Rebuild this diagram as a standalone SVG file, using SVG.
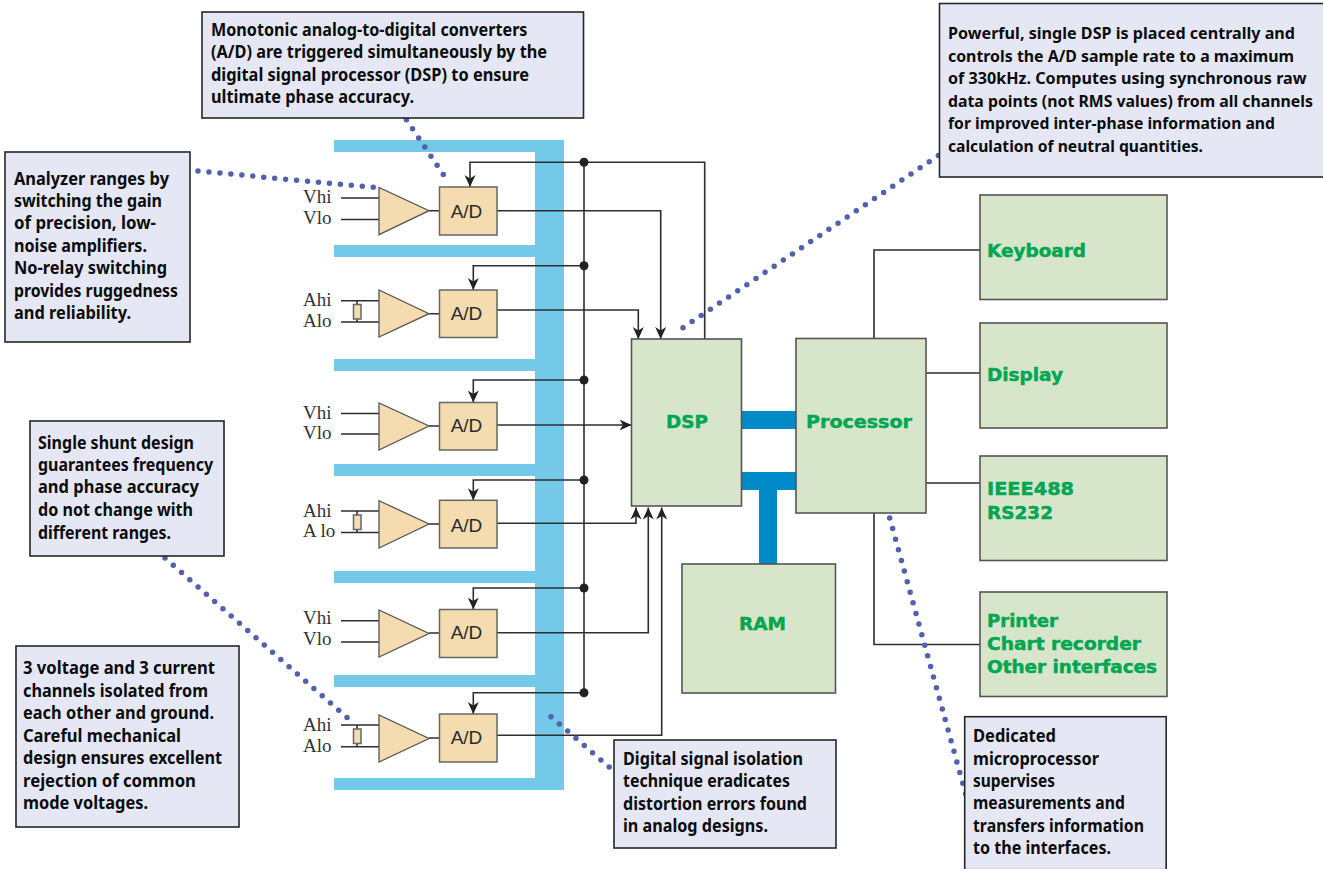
<svg xmlns="http://www.w3.org/2000/svg" width="1323" height="869" viewBox="0 0 1323 869">
<style>
.bus{fill:#75c9e8}
.thick{fill:#0089c7}
.w{fill:none;stroke:#2e2e2e;stroke-width:1.6}
.dot{fill:#222}
.dots{fill:none;stroke:#5261ad;stroke-width:5.5;stroke-linecap:round;stroke-dasharray:0 11}
.amp{fill:#f5dcb0;stroke:#555;stroke-width:1.3}
.ad{fill:#f5dcb0;stroke:#666;stroke-width:1.5}
.adt{font:19px "Liberation Sans",Arial,sans-serif;fill:#2a2a2a;text-anchor:middle}
.sig{font:19px "Liberation Serif","Times New Roman",serif;fill:#333}
.blk{fill:#d7e6cb;stroke:#555;stroke-width:1.6}
.grn{font:bold 18px "DejaVu Sans",Verdana,sans-serif;fill:#00a651;stroke:#00a651;stroke-width:.5}
.call{fill:#e5e8f4;stroke:#262626;stroke-width:1.6}
.ct{font:700 17.5px "Noto Sans","Open Sans",sans-serif;fill:#0c0c0c}
.cs{font:700 16px "Noto Sans","Open Sans",sans-serif;fill:#0c0c0c}
</style>
<defs>
<marker id="arr" markerUnits="userSpaceOnUse" markerWidth="14" markerHeight="14" refX="12" refY="7" orient="auto"><path d="M12,7 L0,1.5 L3.5,7 L0,12.500 Z" fill="#222"/></marker>
</defs>

<g id="isolation-bus">
<path class="bus" d="M334,140H564V790H334V778H535V687H334V675H535V583H334V571H535V476H334V464H535V371H334V359H535V257H334V245H535V152H334Z"/>
</g>

<g id="connectors">
<path class="w" d="M584,162.3V692.7"/>
<path class="w" marker-end="url(#arr)" d="M704.7,339V162.3H470V187"/>
<path class="w" marker-end="url(#arr)" d="M584,265.7H473.3V290"/>
<path class="w" marker-end="url(#arr)" d="M584,380H473.3V402.5"/>
<path class="w" marker-end="url(#arr)" d="M584,480H473.3V500.3"/>
<path class="w" marker-end="url(#arr)" d="M584,588H473.3V609.5"/>
<path class="w" marker-end="url(#arr)" d="M584,692.7H473.3V714"/>
<path class="w" marker-end="url(#arr)" d="M497,210.7H660.7V339"/>
<path class="w" marker-end="url(#arr)" d="M497,310H638.3V339"/>
<path class="w" marker-end="url(#arr)" d="M497,425H631.5"/>
<path class="w" marker-end="url(#arr)" d="M497,523.3H636V507.5"/>
<path class="w" marker-end="url(#arr)" d="M497,632.7H648.3V507.5"/>
<path class="w" marker-end="url(#arr)" d="M497,735.3H661.7V507.5"/>
<path class="w" d="M429,210.7H439.5M429,313.7H439.5M429,426H439.5M429,524H439.5M429,633H439.5M429,738H439.5"/>
<path class="w" d="M341,198H379M341,219.5H379M341,300.7H379M341,322H379M341,413.5H379M341,434H379M341,511H379M341,532.5H379M341,620.7H379M341,642H379M341,725H379M341,746.7H379"/>
<path class="w" d="M357,300.7V322M357,511V532.5M357,725V746.7"/>
<path class="w" d="M874,338.5V250H980M926,373H980M926,483H980M874,513V644.5H980"/>
<circle class="dot" cx="584" cy="162.3" r="4.5"/>
<circle class="dot" cx="584" cy="265.7" r="4.5"/>
<circle class="dot" cx="584" cy="380" r="4.5"/>
<circle class="dot" cx="584" cy="480" r="4.5"/>
<circle class="dot" cx="584" cy="588" r="4.5"/>
<circle class="dot" cx="584" cy="692.7" r="4.5"/>
<rect class="thick" x="741" y="411" width="55" height="18"/>
<rect class="thick" x="741" y="472" width="55" height="18"/>
<rect class="thick" x="759" y="490" width="18" height="74"/>
<path class="dots" d="M198,171L375,187.5"/>
<path class="dots" d="M406.4,119.7L447,180"/>
<path class="dots" d="M683,327.7L945,151"/>
<path class="dots" d="M165,558L351,721"/>
<path class="dots" d="M551,716.7L616,773"/>
<path class="dots" d="M889.7,518L966,795"/>
</g>

<g id="channel-1">
<path class="amp" d="M379,187.5V234.7L429,210.7Z"/><rect class="ad" x="439.5" y="187" width="57.5" height="48"/><text class="adt" x="466.5" y="217.5">A/D</text>
<text class="sig" x="303" y="203">Vhi</text><text class="sig" x="303" y="224">Vlo</text>
</g>
<g id="channel-2">
<rect class="ad" x="353.5" y="304.5" width="7.5" height="14.5"/>
<path class="amp" d="M379,290V337L429,313.7Z"/><rect class="ad" x="439.5" y="290" width="57.5" height="47.5"/><text class="adt" x="466.5" y="319.500">A/D</text>
<text class="sig" x="303" y="306">Ahi</text><text class="sig" x="303" y="327">Alo</text>
</g>
<g id="channel-3">
<path class="amp" d="M379,403V450L429,426Z"/><rect class="ad" x="439.5" y="402.5" width="57.5" height="47.5"/><text class="adt" x="466.5" y="431.500">A/D</text>
<text class="sig" x="303" y="419">Vhi</text><text class="sig" x="303" y="439">Vlo</text>
</g>
<g id="channel-4">
<rect class="ad" x="353.5" y="515" width="7.5" height="14.5"/>
<path class="amp" d="M379,500.7V548L429,524Z"/><rect class="ad" x="439.5" y="500.3" width="57.5" height="47.7"/><text class="adt" x="466.5" y="531.500">A/D</text>
<text class="sig" x="303" y="517">Ahi</text><text class="sig" x="303" y="537">A lo</text>
</g>
<g id="channel-5">
<path class="amp" d="M379,610V657L429,633.5Z"/><rect class="ad" x="439.5" y="609.5" width="57.5" height="48"/><text class="adt" x="466.5" y="638.500">A/D</text>
<text class="sig" x="303" y="624">Vhi</text><text class="sig" x="303" y="645">Vlo</text>
</g>
<g id="channel-6">
<rect class="ad" x="353.5" y="729" width="7.5" height="14.5"/>
<path class="amp" d="M379,715V762L429,738.5Z"/><rect class="ad" x="439.5" y="714" width="57.5" height="48"/><text class="adt" x="466.5" y="744">A/D</text>
<text class="sig" x="303" y="731">Ahi</text><text class="sig" x="303" y="752">Alo</text>
</g>

<g id="dsp"><rect class="blk" x="631.5" y="339" width="110" height="167"/><text class="grn" x="666" y="428" textLength="42" lengthAdjust="spacingAndGlyphs">DSP</text></g>
<g id="processor"><rect class="blk" x="796" y="338.5" width="130" height="174.5"/><text class="grn" x="806" y="428" textLength="106" lengthAdjust="spacingAndGlyphs">Processor</text></g>
<g id="ram"><rect class="blk" x="682" y="564" width="153.5" height="129"/><text class="grn" x="739" y="630" textLength="47" lengthAdjust="spacingAndGlyphs">RAM</text></g>
<g id="keyboard"><rect class="blk" x="980" y="195" width="187" height="104.5"/><text class="grn" x="987" y="257" textLength="99" lengthAdjust="spacingAndGlyphs">Keyboard</text></g>
<g id="display"><rect class="blk" x="980" y="323" width="187" height="105"/><text class="grn" x="987" y="381" textLength="76" lengthAdjust="spacingAndGlyphs">Display</text></g>
<g id="ieee"><rect class="blk" x="980" y="456" width="187" height="104.5"/><text class="grn" x="987" y="495" textLength="87" lengthAdjust="spacingAndGlyphs">IEEE488</text><text class="grn" x="987" y="519" textLength="66" lengthAdjust="spacingAndGlyphs">RS232</text></g>
<g id="printer"><rect class="blk" x="980" y="592" width="187" height="104.5"/><text class="grn" x="987" y="627" textLength="71" lengthAdjust="spacingAndGlyphs">Printer</text><text class="grn" x="987" y="650" textLength="154" lengthAdjust="spacingAndGlyphs">Chart recorder</text><text class="grn" x="987" y="673" textLength="170" lengthAdjust="spacingAndGlyphs">Other interfaces</text></g>

<g id="note-ranges"><rect class="call" x="5" y="152" width="185" height="190"/>
<text class="ct" x="14" y="185" textLength="155" lengthAdjust="spacingAndGlyphs">Analyzer ranges by</text>
<text class="ct" x="14" y="207" textLength="148" lengthAdjust="spacingAndGlyphs">switching the gain</text>
<text class="ct" x="14" y="229" textLength="142" lengthAdjust="spacingAndGlyphs">of precision, low-</text>
<text class="ct" x="14" y="252" textLength="133" lengthAdjust="spacingAndGlyphs">noise amplifiers.</text>
<text class="ct" x="14" y="274" textLength="153" lengthAdjust="spacingAndGlyphs">No-relay switching</text>
<text class="ct" x="14" y="297" textLength="164" lengthAdjust="spacingAndGlyphs">provides ruggedness</text>
<text class="ct" x="14" y="319" textLength="117" lengthAdjust="spacingAndGlyphs">and reliability.</text></g>
<g id="note-ad"><rect class="call" x="202" y="12" width="381.500" height="106"/>
<text class="ct" x="211" y="36" textLength="316.500" lengthAdjust="spacingAndGlyphs">Monotonic analog-to-digital converters</text>
<text class="ct" x="211" y="58" textLength="336" lengthAdjust="spacingAndGlyphs">(A/D) are triggered simultaneously by the</text>
<text class="ct" x="211" y="81" textLength="318" lengthAdjust="spacingAndGlyphs">digital signal processor (DSP) to ensure</text>
<text class="ct" x="211" y="103" textLength="203" lengthAdjust="spacingAndGlyphs">ultimate phase accuracy.</text></g>
<g id="note-dsp"><rect class="call" x="939.500" y="3.500" width="386" height="173.500"/>
<text class="cs" x="948" y="39" textLength="347" lengthAdjust="spacingAndGlyphs">Powerful, single DSP is placed centrally and</text>
<text class="cs" x="948" y="62" textLength="346" lengthAdjust="spacingAndGlyphs">controls the A/D sample rate to a maximum</text>
<text class="cs" x="948" y="84" textLength="358.500" lengthAdjust="spacingAndGlyphs">of 330kHz. Computes using synchronous raw</text>
<text class="cs" x="948" y="107" textLength="365" lengthAdjust="spacingAndGlyphs">data points (not RMS values) from all channels</text>
<text class="cs" x="948" y="129" textLength="327" lengthAdjust="spacingAndGlyphs">for improved inter-phase information and</text>
<text class="cs" x="948" y="152" textLength="255" lengthAdjust="spacingAndGlyphs">calculation of neutral quantities.</text></g>
<g id="note-shunt"><rect class="call" x="30" y="421" width="194" height="135"/>
<text class="ct" x="38" y="449" textLength="156" lengthAdjust="spacingAndGlyphs">Single shunt design</text>
<text class="ct" x="38" y="471" textLength="175" lengthAdjust="spacingAndGlyphs">guarantees frequency</text>
<text class="ct" x="38" y="493" textLength="161" lengthAdjust="spacingAndGlyphs">and phase accuracy</text>
<text class="ct" x="38" y="516" textLength="155" lengthAdjust="spacingAndGlyphs">do not change with</text>
<text class="ct" x="38" y="539" textLength="133" lengthAdjust="spacingAndGlyphs">different ranges.</text></g>
<g id="note-channels"><rect class="call" x="16" y="646" width="223" height="181"/>
<text class="ct" x="23" y="674" textLength="192" lengthAdjust="spacingAndGlyphs">3 voltage and 3 current</text>
<text class="ct" x="23" y="697" textLength="185" lengthAdjust="spacingAndGlyphs">channels isolated from</text>
<text class="ct" x="23" y="719" textLength="191" lengthAdjust="spacingAndGlyphs">each other and ground.</text>
<text class="ct" x="23" y="742" textLength="158" lengthAdjust="spacingAndGlyphs">Careful mechanical</text>
<text class="ct" x="23" y="764" textLength="199" lengthAdjust="spacingAndGlyphs">design ensures excellent</text>
<text class="ct" x="23" y="787" textLength="173" lengthAdjust="spacingAndGlyphs">rejection of common</text>
<text class="ct" x="23" y="809" textLength="125" lengthAdjust="spacingAndGlyphs">mode voltages.</text></g>
<g id="note-isolation"><rect class="call" x="614" y="740" width="222" height="108"/>
<text class="ct" x="623" y="765" textLength="180" lengthAdjust="spacingAndGlyphs">Digital signal isolation</text>
<text class="ct" x="623" y="787" textLength="167" lengthAdjust="spacingAndGlyphs">technique eradicates</text>
<text class="ct" x="623" y="810" textLength="184" lengthAdjust="spacingAndGlyphs">distortion errors found</text>
<text class="ct" x="623" y="832" textLength="145" lengthAdjust="spacingAndGlyphs">in analog designs.</text></g>
<g id="note-micro"><rect class="call" x="964.700" y="716.700" width="201.500" height="153"/>
<text class="ct" x="973" y="742" textLength="83" lengthAdjust="spacingAndGlyphs">Dedicated</text>
<text class="ct" x="973" y="765" textLength="126" lengthAdjust="spacingAndGlyphs">microprocessor</text>
<text class="ct" x="973" y="787" textLength="82" lengthAdjust="spacingAndGlyphs">supervises</text>
<text class="ct" x="973" y="809" textLength="152" lengthAdjust="spacingAndGlyphs">measurements and</text>
<text class="ct" x="973" y="832" textLength="171" lengthAdjust="spacingAndGlyphs">transfers information</text>
<text class="ct" x="973" y="854" textLength="138" lengthAdjust="spacingAndGlyphs">to the interfaces.</text></g>
</svg>
